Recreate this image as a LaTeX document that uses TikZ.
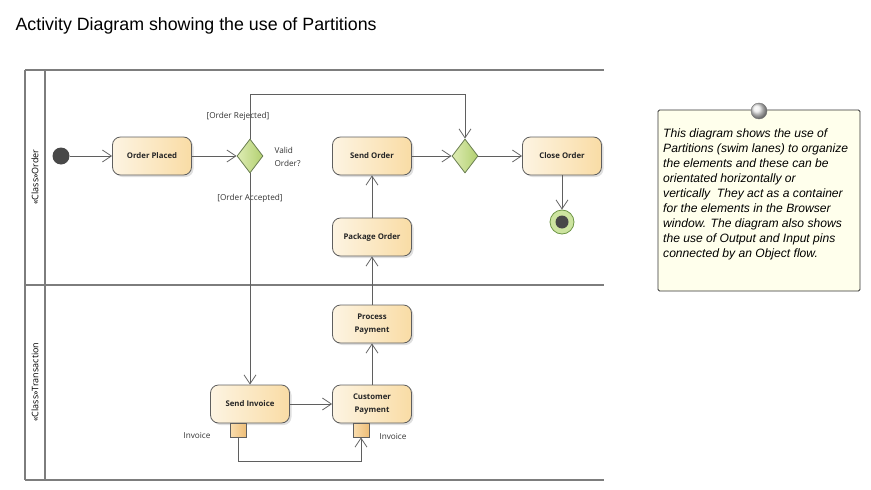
\documentclass[tikz,border=0pt]{standalone}
\usepackage{fontspec}
\setmainfont{Liberation Sans}
\newfontfamily\uifont{Open Sans}
\usepackage{tikz}
\usetikzlibrary{shapes.geometric, arrows.meta, shadows}
\definecolor{laneGris}{RGB}{125,125,125}
\definecolor{lineaGris}{RGB}{95,95,95}
\definecolor{accionIzq}{RGB}{253,244,226}
\definecolor{accionDer}{RGB}{249,220,165}
\definecolor{decIzq}{RGB}{222,236,180}
\definecolor{decDer}{RGB}{178,208,112}
\definecolor{decBorde}{RGB}{105,125,80}
\definecolor{finVerde}{RGB}{205,228,160}
\definecolor{finBorde}{RGB}{110,150,70}
\definecolor{nodoOscuro}{RGB}{72,72,72}
\definecolor{notaFondo}{RGB}{255,255,236}
\definecolor{pinIzq}{RGB}{250,222,175}
\definecolor{pinDer}{RGB}{238,190,120}

\begin{document}
\begin{tikzpicture}[x=1pt, y=-1pt,
    lane/.style={draw=laneGris, line width=1.4pt},
    action/.style={rectangle, rounded corners=8pt, draw=lineaGris, line width=0.8pt,
      left color=accionIzq, right color=accionDer,
      minimum width=79pt, minimum height=38pt, align=center,
      font=\uifont\bfseries\fontsize{7.8}{13}\selectfont, text=black!85,
      drop shadow={shadow xshift=2pt, shadow yshift=-2pt, opacity=0.25}},
    decision/.style={diamond, draw=decBorde, line width=0.8pt,
      left color=decIzq, right color=decDer,
      minimum width=26pt, minimum height=34pt, inner sep=0pt},
    pinbox/.style={rectangle, draw=lineaGris, line width=0.8pt,
      left color=pinIzq, right color=pinDer,
      minimum width=16pt, minimum height=14pt, inner sep=0pt},
    flow/.style={draw=lineaGris, line width=0.8pt,
      -{Straight Barb[length=9pt, width=12pt]}},
    guard/.style={font=\uifont\fontsize{8.2}{13}\selectfont, text=black!80},
    lanelbl/.style={rotate=90, font=\uifont\fontsize{9}{10}\selectfont}]
  \useasboundingbox (0,0) rectangle (871,490);

  % Titulo
  \node[anchor=west, font=\fontsize{17.8}{20}\selectfont] (titulo) at (12,26)
    {Activity Diagram showing the use of Partitions};

  % Carriles
  \draw[lane] (25,70) -- (604,70);
  \draw[lane] (25,285) -- (604,285);
  \draw[lane] (25,480) -- (604,480);
  \draw[lane] (25,70) -- (25,480);
  \draw[lane] (45,70) -- (45,480);
  \node[lanelbl] (laneOrder) at (35,177) {«Class»Order};
  \node[lanelbl] (laneTrans) at (35,382) {«Class»Transaction};

  % Acciones
  \foreach \n/\x/\y/\t in {placed/152/156/{Order Placed},
      sendord/372/156/{Send Order}, closeord/562/156/{Close Order},
      package/372/237/{Package Order}, procpay/372/324/{Process\\Payment},
      custpay/372/404/{Customer\\Payment}, sendinv/250/404/{Send Invoice}}
    \node[action] (\n) at (\x,\y) {\t};

  % Nodos inicial, decision y final
  \node[circle, fill=nodoOscuro, minimum size=17pt, inner sep=0pt] (inicio) at (61,156) {};
  \node[decision] (valid) at (250,156) {};
  \node[decision] (merge) at (465,156) {};
  \node[circle, draw=finBorde, line width=0.8pt, fill=finVerde, minimum size=24pt,
    inner sep=0pt, path picture={\fill[nodoOscuro] (path picture bounding box.center)
    circle (6.5pt);}] (fin) at (562,222) {};

  % Pines
  \node[pinbox] (pinOut) at (238,430) {};
  \node[pinbox] (pinIn) at (361,430) {};
  \node[guard, anchor=east] (lblOut) at (214,436) {Invoice};
  \node[guard, anchor=west] (lblIn) at (376,437) {Invoice};

  % Etiquetas
  \node[guard, align=left, anchor=west] (pregunta) at (271,157) {Valid\\Order?};
  \node[guard] (rechazo) at (238,116) {[Order Rejected]};
  \node[guard] (acepta) at (250,198) {[Order Accepted]};

  % Flujos
  \coordinate (esquina) at (465,94);
  \draw[flow] (inicio) -- (placed);
  \draw[flow] (placed) -- (valid);
  \draw[flow] (valid.north) |- (esquina) -- (merge.north);
  \draw[flow] (valid.south) -- (sendinv.north);
  \draw[flow] (sendinv) -- (custpay);
  \draw[flow] (custpay) -- (procpay);
  \draw[flow] (procpay) -- (package);
  \draw[flow] (package) -- (sendord);
  \draw[flow] (sendord) -- (merge);
  \draw[flow] (merge) -- (closeord);
  \draw[flow] (closeord) -- (fin);
  \draw[flow] (pinOut.south) -- ++(0,24) -| (pinIn.south);

  % Nota
  \node[draw=black!80, line width=0.8pt, fill=notaFondo, rounded corners=1.5pt,
    minimum width=202pt, minimum height=181pt, inner sep=0pt] (nota) at (759,200.5) {};
  \node[anchor=north west, align=left, inner sep=0pt,
    font=\itshape\fontsize{12.1}{15}\selectfont] (notaTexto) at (663,129)
    {This diagram shows the use of\\ Partitions (swim lanes) to organize\\
     the elements and these can be\\ orientated horizontally or\\
     vertically\ \ They act as a container\\ for the elements in the Browser\\
     window. The diagram also shows\\ the use of Output and Input pins\\
     connected by an Object flow.};
  \node[circle, draw=black!55, shading=ball, ball color=white!85!gray,
    minimum size=16pt, inner sep=0pt] (notaPin) at (759,111) {};
\end{tikzpicture}
\end{document}
